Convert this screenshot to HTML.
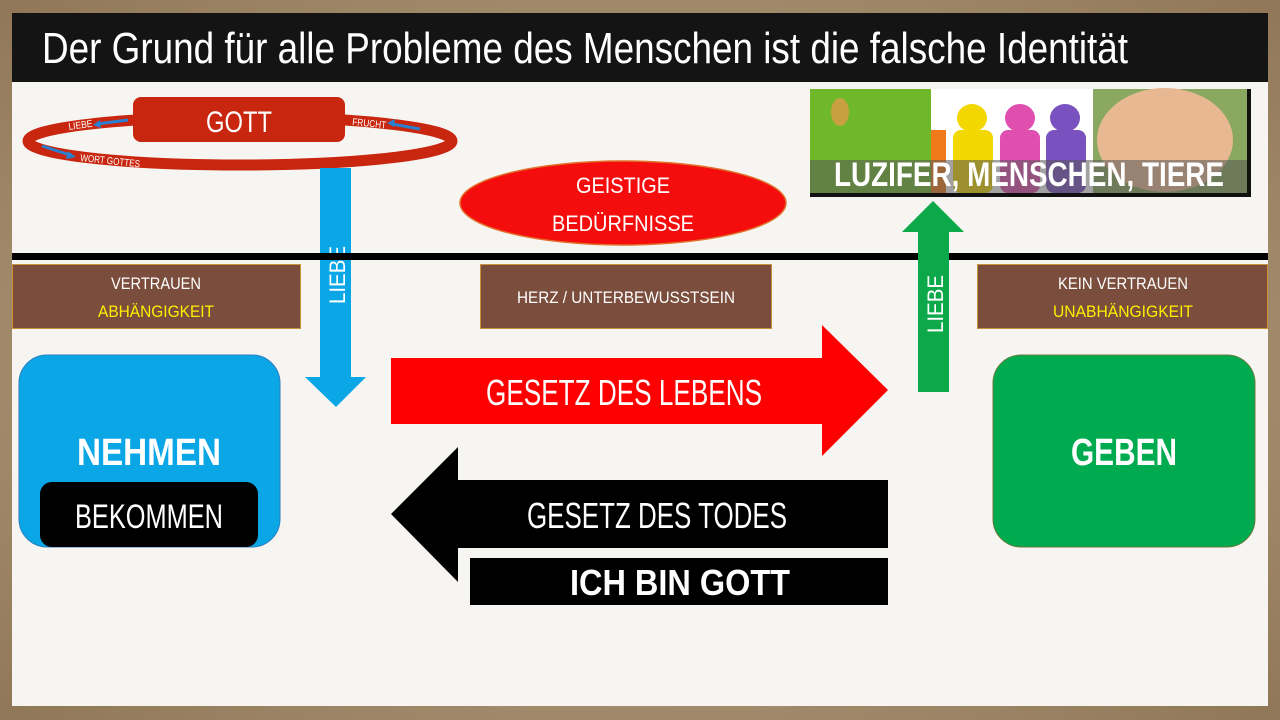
<!DOCTYPE html>
<html><head><meta charset="utf-8"><style>
html,body{margin:0;padding:0;width:1280px;height:720px;overflow:hidden;background:#a58e6c}
svg{display:block}
text{font-family:"Liberation Sans",sans-serif}
</style></head><body>
<svg width="1280" height="720" viewBox="0 0 1280 720" xmlns="http://www.w3.org/2000/svg">
<defs>
<radialGradient id="bg" cx="50%" cy="50%" r="70%"><stop offset="0" stop-color="#c9b697"/><stop offset="1" stop-color="#8f7757"/></radialGradient>
</defs>
<rect width="1280" height="720" fill="url(#bg)"/>
<rect x="12" y="13" width="1256" height="693" fill="#f7f5f1"/>
<rect x="12" y="13" width="1256" height="69" fill="#141414"/>
<text x="42" y="63" font-size="44" fill="#fff" textLength="1086" lengthAdjust="spacingAndGlyphs">Der Grund für alle Probleme des Menschen ist die falsche Identität</text>

<!-- ring -->
<ellipse cx="240" cy="141" rx="212" ry="24" fill="none" stroke="#c8260e" stroke-width="11"/>
<rect x="133" y="97" width="212" height="45" rx="8" fill="#c8260e"/>
<text x="239" y="132" font-size="30" fill="#fff" text-anchor="middle" textLength="66" lengthAdjust="spacingAndGlyphs">GOTT</text>
<text x="69" y="130" font-size="10" fill="#fff" transform="rotate(-8 69 130)" textLength="24" lengthAdjust="spacingAndGlyphs">LIEBE</text>
<path d="M97 124 L128 120" stroke="#2a7fd0" stroke-width="3"/><path d="M93 125 l7 -5 l1 8z" fill="#2a7fd0"/>
<text x="352" y="125" font-size="10" fill="#fff" transform="rotate(6 352 125)" textLength="34" lengthAdjust="spacingAndGlyphs">FRUCHT</text>
<path d="M392 124 L420 129" stroke="#2a7fd0" stroke-width="3"/><path d="M387 123 l8 -4 l-1 8z" fill="#2a7fd0"/>
<path d="M42 146 L70 155" stroke="#2a7fd0" stroke-width="3"/><path d="M76 157 l-8 -6 l-2 8z" fill="#2a7fd0"/>
<text x="80" y="161" font-size="10" fill="#fff" transform="rotate(6 80 161)" textLength="60" lengthAdjust="spacingAndGlyphs">WORT GOTTES</text>

<!-- blue arrow -->
<path d="M320 168 H351 V377 H366 L336 407 L305 377 H320 Z" fill="#0aa6e6"/>
<text transform="translate(345 275) rotate(-90)" font-size="22" fill="#fff" text-anchor="middle" textLength="58" lengthAdjust="spacingAndGlyphs">LIEBE</text>

<!-- red ellipse -->
<ellipse cx="623" cy="203" rx="163" ry="42" fill="#f50d0d" stroke="#e0702a" stroke-width="1.5"/>
<text x="623" y="193" font-size="22" fill="#fff" text-anchor="middle" textLength="94" lengthAdjust="spacingAndGlyphs">GEISTIGE</text>
<text x="623" y="231" font-size="22" fill="#fff" text-anchor="middle" textLength="142" lengthAdjust="spacingAndGlyphs">BEDÜRFNISSE</text>

<!-- images -->
<rect x="810" y="89" width="441" height="108" fill="#111"/>
<rect x="810" y="89" width="121" height="104" fill="#6fb82a"/>
<ellipse cx="840" cy="112" rx="9" ry="14" fill="#c8a040"/>
<rect x="931" y="89" width="162" height="104" fill="#fff"/>
<ellipse cx="972" cy="118" rx="15" ry="14" fill="#f2d800"/><rect x="953" y="130" width="40" height="63" rx="8" fill="#f2d800"/>
<rect x="931" y="130" width="15" height="63" fill="#f07a1a"/>
<ellipse cx="1020" cy="118" rx="15" ry="14" fill="#e04fb0"/><rect x="1000" y="130" width="40" height="63" rx="8" fill="#e04fb0"/>
<ellipse cx="1065" cy="118" rx="15" ry="14" fill="#7a52c0"/><rect x="1046" y="130" width="40" height="63" rx="8" fill="#7a52c0"/>
<rect x="1093" y="89" width="154" height="104" fill="#8aa860"/>
<ellipse cx="1165" cy="140" rx="68" ry="52" fill="#e8b892"/>
<rect x="810" y="160" width="437" height="33" fill="#555" opacity=".55"/>
<text x="1029" y="186" font-size="34" font-weight="bold" fill="#fff" text-anchor="middle" textLength="390" lengthAdjust="spacingAndGlyphs">LUZIFER, MENSCHEN, TIERE</text>

<!-- line -->
<rect x="12" y="253" width="1256" height="7" fill="#000"/>

<!-- green arrow -->
<path d="M918 392 H949 V232 H964 L933 201 L902 232 H918 Z" fill="#0ca84a"/>
<text transform="translate(943 304) rotate(-90)" font-size="22" fill="#fff" text-anchor="middle" textLength="58" lengthAdjust="spacingAndGlyphs">LIEBE</text>

<!-- brown boxes -->
<rect x="12.5" y="264.5" width="288" height="64" fill="#7b4d3c" stroke="#c8913a"/>
<text x="156" y="289" font-size="17" fill="#fff" text-anchor="middle" textLength="90" lengthAdjust="spacingAndGlyphs">VERTRAUEN</text>
<text x="156" y="317" font-size="17" fill="#ffee00" text-anchor="middle" textLength="116" lengthAdjust="spacingAndGlyphs">ABHÄNGIGKEIT</text>
<rect x="480.5" y="264.5" width="291" height="64" fill="#7b4d3c" stroke="#c8913a"/>
<text x="626" y="303" font-size="17" fill="#fff" text-anchor="middle" textLength="218" lengthAdjust="spacingAndGlyphs">HERZ / UNTERBEWUSSTSEIN</text>
<rect x="977.5" y="264.5" width="290" height="64" fill="#7b4d3c" stroke="#c8913a"/>
<text x="1123" y="289" font-size="17" fill="#fff" text-anchor="middle" textLength="130" lengthAdjust="spacingAndGlyphs">KEIN VERTRAUEN</text>
<text x="1123" y="317" font-size="17" fill="#ffee00" text-anchor="middle" textLength="140" lengthAdjust="spacingAndGlyphs">UNABHÄNGIGKEIT</text>

<!-- NEHMEN -->
<rect x="19" y="355" width="261" height="192" rx="28" fill="#0aa6e6" stroke="#2a7fc0"/>
<text x="149" y="465" font-size="38" font-weight="bold" fill="#fff" text-anchor="middle" textLength="144" lengthAdjust="spacingAndGlyphs">NEHMEN</text>
<rect x="40" y="482" width="218" height="65" rx="12" fill="#000"/>
<text x="149" y="528" font-size="34" fill="#fff" text-anchor="middle" textLength="148" lengthAdjust="spacingAndGlyphs">BEKOMMEN</text>

<!-- GEBEN -->
<rect x="993" y="355" width="262" height="192" rx="28" fill="#00ab4f" stroke="#6a7a3a"/>
<text x="1124" y="465" font-size="38" font-weight="bold" fill="#fff" text-anchor="middle" textLength="106" lengthAdjust="spacingAndGlyphs">GEBEN</text>

<!-- red arrow -->
<path d="M391 358 H822 V325 L888 390 L822 456 V424 H391 Z" fill="#ff0000"/>
<text x="624" y="405" font-size="36" fill="#fff" text-anchor="middle" textLength="276" lengthAdjust="spacingAndGlyphs">GESETZ DES LEBENS</text>

<!-- black arrow -->
<path d="M888 480 H458 V447 L391 514 L458 582 V548 H888 Z" fill="#000"/>
<text x="657" y="528" font-size="36" fill="#fff" text-anchor="middle" textLength="260" lengthAdjust="spacingAndGlyphs">GESETZ DES TODES</text>
<rect x="470" y="558" width="418" height="47" fill="#000"/>
<text x="680" y="595" font-size="36" font-weight="bold" fill="#fff" text-anchor="middle" textLength="220" lengthAdjust="spacingAndGlyphs">ICH BIN GOTT</text>
</svg>
</body></html>
